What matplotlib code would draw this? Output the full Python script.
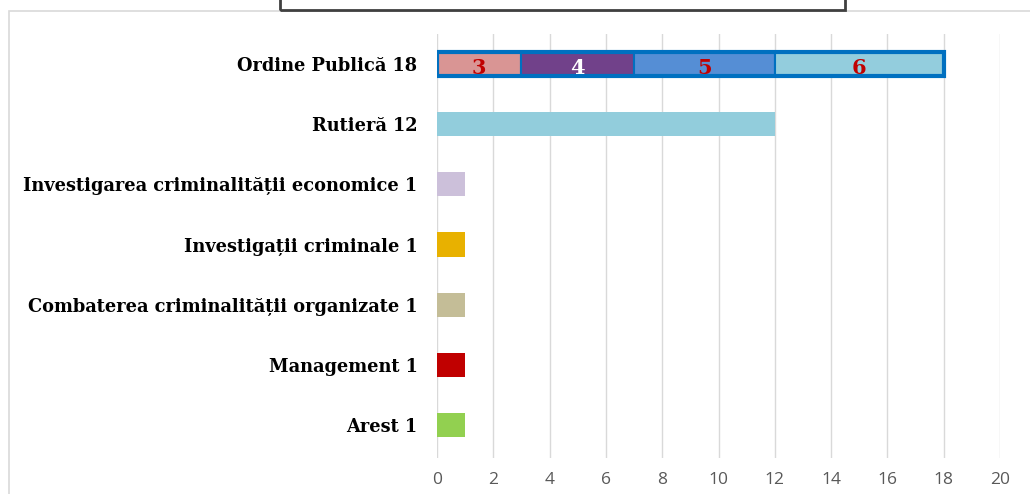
import matplotlib
matplotlib.use("Agg")
import matplotlib.pyplot as plt
from matplotlib.patches import Rectangle

# ---- data ----
categories = ["Ordine Publică", "Rutieră", "Investigarea criminalității economice",
              "Investigații criminale", "Combaterea criminalității organizate",
              "Management", "Arest"]
totals = [18, 12, 1, 1, 1, 1, 1]
bar_colors = [None, "#92CDDC", "#CCC0DA", "#E8B100", "#C4BD97", "#C00000", "#92D050"]
op_segments = [3, 4, 5, 6]
op_colors = ["#D99594", "#71418A", "#558ED5", "#93CDDD"]
op_label_colors = ["#C00000", "#FFFFFF", "#C00000", "#C00000"]
xticks = [0, 2, 4, 6, 8, 10, 12, 14, 16, 18, 20]
title_text = "INCIDENTE DE INTEGRITATE 2017"

W, H = 1030, 494
fig = plt.figure(figsize=(W / 100, H / 100), dpi=100)
fig.patch.set_facecolor("white")

# outer chart frame (only top/left visible)
fig.patches.append(Rectangle((9 / W, -0.1), 1.2, (H - 11) / H + 0.1,
                             transform=fig.transFigure, fill=False,
                             edgecolor="#D9D9D9", linewidth=1.2))

ax = fig.add_axes([437 / W, 1 - 458 / H, (1000 - 437) / W, (458 - 34) / H])
ax.set_xlim(0, 20)
n = len(categories)
ax.set_ylim(n - 0.45, -0.5)
ypos = list(range(n))
bh = 0.4

# stacked Ordine Publică bar
left = 0
for v, c, lc in zip(op_segments, op_colors, op_label_colors):
    ax.barh(0, v, left=left, height=bh, color=c, edgecolor="#0070C0",
            linewidth=1.5, zorder=3)
    ax.text(left + v / 2, 0.06, str(v), ha="center", va="center",
            color=lc, fontsize=15, fontweight="bold",
            family="DejaVu Serif", zorder=5)
    left += v
ax.barh(0, sum(op_segments), height=bh, fill=False, edgecolor="#0070C0",
        linewidth=3, zorder=4)

for y, v, c in zip(ypos[1:], totals[1:], bar_colors[1:]):
    ax.barh(y, v, height=bh, color=c, zorder=3)

ax.set_yticks(ypos)
ax.set_yticklabels([f"{c} {t}" for c, t in zip(categories, totals)],
                   family="DejaVu Serif", fontweight="bold", fontsize=12.8,
                   color="black")
ax.tick_params(axis="y", length=0, pad=14)
ax.set_xticks(xticks)
ax.set_xticklabels([str(t) for t in xticks], family="Open Sans", fontsize=12.5,
                   color="#595959")
ax.tick_params(axis="x", length=0, pad=10)
ax.grid(axis="x", color="#D9D9D9", linewidth=1, zorder=0)
for s in ax.spines.values():
    s.set_visible(False)

# cropped title box (as in the reference, only its lower edge is visible)
fig.patches.append(Rectangle((280 / W, 1 - 10 / H), (845 - 280) / W, 0.2,
                             transform=fig.transFigure, fill=False,
                             edgecolor="#404040", linewidth=2))
fig.text(562 / W, 1 - 3 / H, title_text, ha="center", va="bottom",
         family="Liberation Serif", fontweight="bold", fontsize=15,
         color="#404040")

fig.savefig("out.png", dpi=100, facecolor="white")
